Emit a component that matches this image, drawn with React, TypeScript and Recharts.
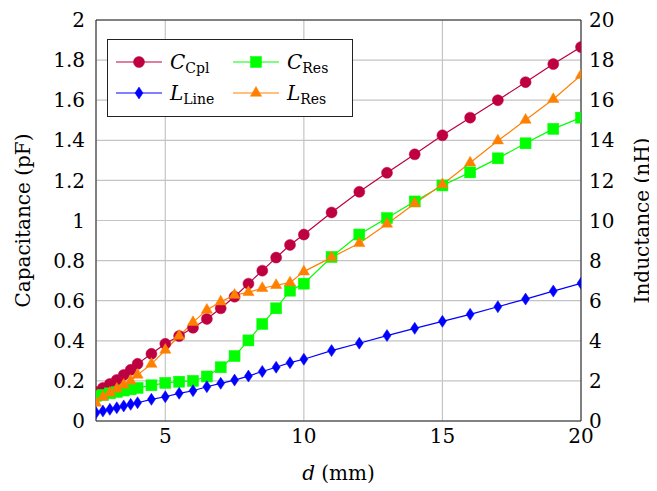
import React from 'react';
import { LineChart, Line, XAxis, YAxis, CartesianGrid, ReferenceArea, Legend, Label } from 'recharts';

// d (mm)
const dValues = [2.5, 2.75, 3, 3.25, 3.5, 3.75, 4, 4.5, 5, 5.5, 6, 6.5, 7, 7.5, 8, 8.5, 9, 9.5, 10, 11, 12, 13, 14, 15, 16, 17, 18, 19, 20];
// Capacitances (pF)
const cCpl = [0.145, 0.165, 0.185, 0.205, 0.23, 0.255, 0.285, 0.335, 0.385, 0.424, 0.465, 0.509, 0.562, 0.62, 0.685, 0.75, 0.815, 0.878, 0.93, 1.04, 1.143, 1.238, 1.33, 1.425, 1.513, 1.6, 1.69, 1.78, 1.865];
const cRes = [0.125, 0.13, 0.138, 0.145, 0.152, 0.158, 0.165, 0.178, 0.19, 0.196, 0.2, 0.222, 0.268, 0.324, 0.402, 0.484, 0.562, 0.65, 0.685, 0.818, 0.93, 1.012, 1.095, 1.175, 1.24, 1.31, 1.385, 1.457, 1.513];
// Inductances (nH)
const lLine = [0.41, 0.5, 0.58, 0.66, 0.75, 0.83, 0.91, 1.08, 1.21, 1.38, 1.51, 1.71, 1.88, 2.04, 2.24, 2.47, 2.68, 2.91, 3.08, 3.51, 3.88, 4.26, 4.62, 4.97, 5.32, 5.7, 6.08, 6.48, 6.87];
const lRes = [0.9, 1.2, 1.4, 1.6, 1.8, 2.0, 2.3, 2.84, 3.54, 4.24, 4.92, 5.54, 5.95, 6.28, 6.42, 6.62, 6.77, 6.9, 7.45, 8.16, 8.86, 9.83, 10.85, 11.8, 12.88, 13.98, 15.01, 16.05, 17.25];

const xTicks = [5, 10, 15, 20];
const leftTicks = [0, 0.2, 0.4, 0.6, 0.8, 1, 1.2, 1.4, 1.6, 1.8, 2];
const rightTicks = [0, 2, 4, 6, 8, 10, 12, 14, 16, 18, 20];

const PURPLE = '#BF0040';
const GREEN = '#00FF00';
const BLUE = '#0000FF';
const ORANGE = '#FF8000';
const FONT = '"DejaVu Serif", "Liberation Serif", serif';

const data = dValues.map((d, i) => ({ d, cCpl: cCpl[i], cRes: cRes[i], lLine: lLine[i], lRes: lRes[i] }));

type Shape = 'circle' | 'square' | 'diamond' | 'triangle';

function marker(shape: Shape, color: string, cx: number, cy: number, key?: string) {
  if (shape === 'circle') return <circle key={key} cx={cx} cy={cy} r={5.5} fill={color} stroke={color} strokeWidth={0.5} />;
  if (shape === 'square') return <rect key={key} x={cx - 5.5} y={cy - 5.5} width={11} height={11} fill={color} stroke={color} strokeWidth={0.5} />;
  if (shape === 'diamond')
    return <polygon key={key} points={`${cx},${cy - 6} ${cx + 4},${cy} ${cx},${cy + 6} ${cx - 4},${cy}`} fill={color} stroke={color} strokeWidth={0.5} />;
  return <polygon key={key} points={`${cx},${cy - 6.5} ${cx + 5.6},${cy + 3.25} ${cx - 5.6},${cy + 3.25}`} fill={color} stroke={color} strokeWidth={0.5} />;
}

const makeDot = (shape: Shape, color: string) => (props: any) => {
  const { cx, cy, index } = props;
  if (cx == null || cy == null) return <g key={`e${shape}${index}`} />;
  return marker(shape, color, cx, cy, `${shape}${index}`);
};

const legendItems: { main: string; sub: string; color: string; shape: Shape }[] = [
  { main: 'C', sub: 'Cpl', color: PURPLE, shape: 'circle' },
  { main: 'C', sub: 'Res', color: GREEN, shape: 'square' },
  { main: 'L', sub: 'Line', color: BLUE, shape: 'diamond' },
  { main: 'L', sub: 'Res', color: ORANGE, shape: 'triangle' },
];

const LegendBox = () => {
  const colX = [9, 126];
  const rowY = [23, 54];
  return (
    <svg width={246} height={78} style={{ display: 'block' }}>
      <rect x={0.5} y={0.5} width={245} height={77} fill="#fff" stroke="#222" strokeWidth={1} />
      {legendItems.map((it, i) => {
        const x0 = colX[i % 2];
        const y0 = rowY[Math.floor(i / 2)];
        return (
          <g key={i}>
            <line x1={x0} x2={x0 + 46} y1={y0} y2={y0} stroke={it.color} strokeWidth={1.2} />
            {marker(it.shape, it.color, x0 + 23, y0)}
            <text x={x0 + 54} y={y0 + 7} fontFamily={FONT} fontSize={20} fill="#000">
              <tspan fontStyle="italic">{it.main}</tspan>
              <tspan fontSize={14} dy={4}>{it.sub}</tspan>
            </text>
          </g>
        );
      })}
    </svg>
  );
};

const tickStyle = { fontFamily: FONT, fontSize: 20, fill: '#000' };

export default function App() {
  return (
    <div style={{ width: 649, height: 483, background: '#fff' }}>
      <LineChart width={649} height={483} data={data} margin={{ top: 12, right: 0, left: 0, bottom: 0 }} style={{ overflow: 'visible' }}>
        <CartesianGrid yAxisId="left" stroke="#c4c4c4" strokeWidth={1.2} />
        <XAxis
          dataKey="d"
          type="number"
          domain={[2.5, 20]}
          ticks={xTicks}
          height={70}
          axisLine={false}
          tickLine={false}
          tick={tickStyle}
          allowDataOverflow
        >
          <Label
            content={(p: any) => {
              const vb = p.viewBox || { x: 88, width: 485 };
              return (
                <text x={vb.x + vb.width / 2} y={472} textAnchor="middle" fontFamily={FONT} fontSize={20} fill="#000">
                  <tspan fontStyle="italic">d</tspan> (mm)
                </text>
              );
            }}
          />
        </XAxis>
        <YAxis
          yAxisId="left"
          domain={[0, 2]}
          ticks={leftTicks}
          width={88}
          axisLine={false}
          tickLine={false}
          tickMargin={5}
          tick={tickStyle}
          tickFormatter={(v: number) => String(Number(v.toFixed(1)))}
        >
          <Label
            content={(p: any) => {
              const vb = p.viewBox || { y: 12, height: 401 };
              const cy = vb.y + vb.height / 2;
              return (
                <text x={21.5} y={cy} transform={`rotate(-90, 21.5, ${cy})`} textAnchor="middle" fontFamily={FONT} fontSize={20} fill="#000">
                  Capacitance (pF)
                </text>
              );
            }}
          />
        </YAxis>
        <YAxis
          yAxisId="right"
          orientation="right"
          domain={[0, 20]}
          ticks={rightTicks}
          width={76}
          axisLine={false}
          tickLine={false}
          tick={tickStyle}
        >
          <Label
            content={(p: any) => {
              const vb = p.viewBox || { y: 12, height: 401 };
              const cy = vb.y + vb.height / 2;
              return (
                <text x={641} y={cy} transform={`rotate(-90, 641, ${cy})`} textAnchor="middle" fontFamily={FONT} fontSize={20} fill="#000">
                  Inductance (nH)
                </text>
              );
            }}
          />
        </YAxis>
        <ReferenceArea yAxisId="left" x1={2.5} x2={20} y1={0} y2={2} fill="none" fillOpacity={0} stroke="#222" strokeWidth={1} strokeOpacity={1} />
        <Line yAxisId="left" dataKey="cCpl" name="C_Cpl" stroke={PURPLE} strokeWidth={1.2} dot={makeDot('circle', PURPLE)} isAnimationActive={false} />
        <Line yAxisId="left" dataKey="cRes" name="C_Res" stroke={GREEN} strokeWidth={1.2} dot={makeDot('square', GREEN)} isAnimationActive={false} />
        <Line yAxisId="right" dataKey="lLine" name="L_Line" stroke={BLUE} strokeWidth={1.2} dot={makeDot('diamond', BLUE)} isAnimationActive={false} />
        <Line yAxisId="right" dataKey="lRes" name="L_Res" stroke={ORANGE} strokeWidth={1.2} dot={makeDot('triangle', ORANGE)} isAnimationActive={false} />
        <Legend
          layout="horizontal"
          verticalAlign="middle"
          align="center"
          wrapperStyle={{ left: 99, top: 31, width: 246, height: 78 }}
          content={() => <LegendBox />}
        />
      </LineChart>
    </div>
  );
}
